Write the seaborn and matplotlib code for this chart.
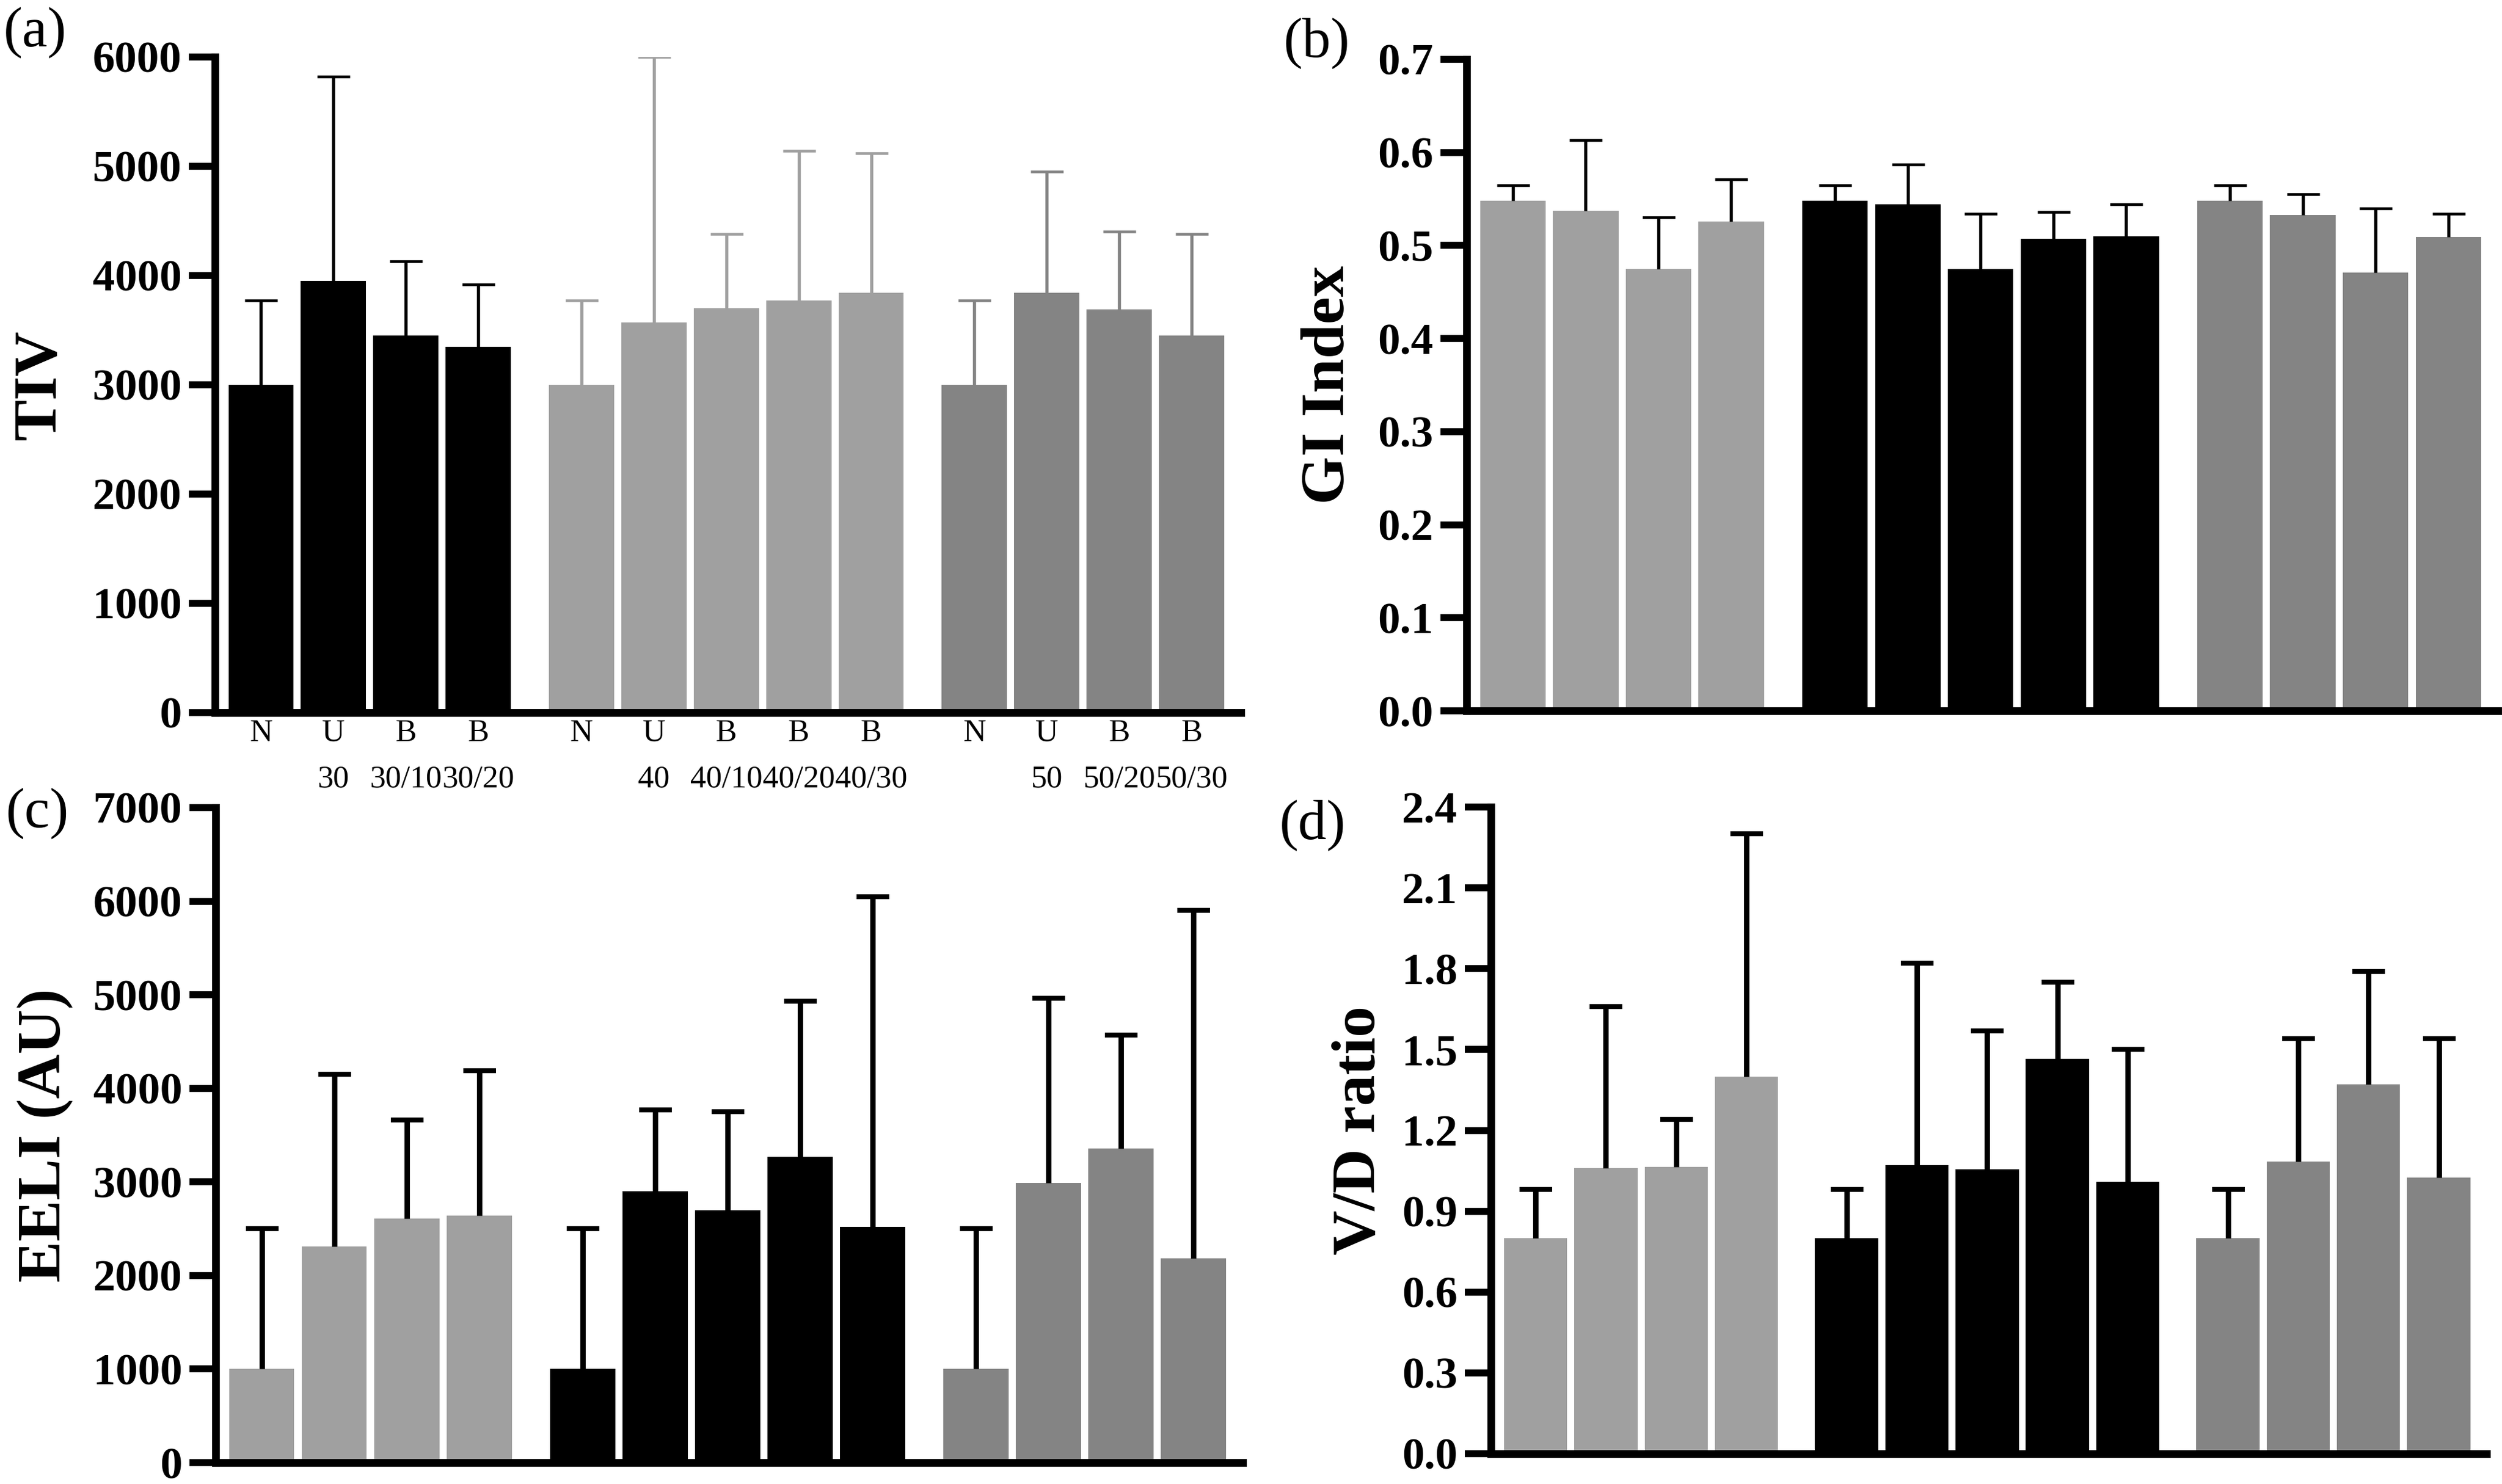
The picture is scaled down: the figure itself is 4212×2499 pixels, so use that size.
import numpy as np
import pandas as pd
import matplotlib
matplotlib.use("Agg")
import matplotlib.pyplot as plt
import seaborn as sns

# ---- data ----
group_sizes = [4, 5, 4]
group_ids = ["g1", "g2", "g3"]

tick_labels = ["N", "U\n30", "B\n30/10", "B\n30/20",
               "N", "U\n40", "B\n40/10", "B\n40/20", "B\n40/30",
               "N", "U\n50", "B\n50/20", "B\n50/30"]

tiv_mean = [3000, 3950, 3450, 3350, 3000, 3570, 3700, 3770, 3840, 3000, 3840, 3690, 3450]
tiv_upper = [3770, 5820, 4130, 3920, 3770, 6000, 4380, 5140, 5120, 3770, 4950, 4400, 4380]

gi_mean = [0.548, 0.537, 0.475, 0.526, 0.548, 0.544, 0.475, 0.507, 0.510, 0.548, 0.533, 0.471, 0.509]
gi_upper = [0.565, 0.613, 0.530, 0.571, 0.565, 0.587, 0.534, 0.536, 0.544, 0.565, 0.555, 0.540, 0.534]

eeli_mean = [1000, 2310, 2610, 2640, 1000, 2900, 2700, 3270, 2520, 1000, 2990, 3360, 2180]
eeli_upper = [2500, 4150, 3660, 4190, 2500, 3770, 3750, 4930, 6050, 2500, 4960, 4570, 5900]

vd_mean = [0.80, 1.06, 1.065, 1.40, 0.80, 1.07, 1.055, 1.465, 1.01, 0.80, 1.085, 1.37, 1.025]
vd_upper = [0.98, 1.66, 1.24, 2.30, 0.98, 1.82, 1.57, 1.75, 1.50, 0.98, 1.54, 1.79, 1.54]

tiv_ticks = [0, 1000, 2000, 3000, 4000, 5000, 6000]
gi_ticks = [0.0, 0.1, 0.2, 0.3, 0.4, 0.5, 0.6, 0.7]
eeli_ticks = [0, 1000, 2000, 3000, 4000, 5000, 6000, 7000]
vd_ticks = [0.0, 0.3, 0.6, 0.9, 1.2, 1.5, 1.8, 2.1, 2.4]

BLACK = "#000000"
LIGHT = "#a0a0a0"
DARK = "#848484"

# ---- style ----
sns.set_theme(style="ticks", rc={
    "axes.edgecolor": "black", "text.color": "black", "axes.labelcolor": "black",
    "xtick.color": "black", "ytick.color": "black",
})
plt.rcParams["font.family"] = ["Liberation Serif", "DejaVu Serif"]

# bar positions: consecutive bars 1 apart, extra space between groups
group_gap = 0.425
positions, groups = [], []
start = 0.0
for gid, n in zip(group_ids, group_sizes):
    positions += [start + i for i in range(n)]
    groups += [gid] * n
    start += n + group_gap

W, H = 4212, 2499
fig = plt.figure(figsize=(W / 300, H / 300), dpi=300)


def rect(x0, x1, ytop, ybot):
    return [x0 / W, 1 - ybot / H, (x1 - x0) / W, (ybot - ytop) / H]


def panel(ax, mean, upper, palette, err_colors, ticks, fmt, ylabel, label_x, elw, capt):
    df = pd.DataFrame({"pos": positions, "value": mean, "upper": upper, "group": groups})
    sns.barplot(data=df, x="pos", y="value", hue="group", palette=palette,
                native_scale=True, dodge=False, width=0.9, saturation=1,
                errorbar=None, legend=False, linewidth=0, ax=ax)
    # upper-only error bars (SD), drop the cap at the bar top
    for gid in group_ids:
        sub = df[df.group == gid]
        _, caps, _ = ax.errorbar(sub.pos, sub.value,
                                 yerr=[np.zeros(len(sub)), sub.upper - sub.value],
                                 fmt="none", ecolor=err_colors[gid], elinewidth=elw,
                                 capsize=6.6, capthick=capt, zorder=3)
        caps[0].set_visible(False)
    ax.set_xlim(-0.635, 13.53)
    ax.set_ylim(ticks[0], ticks[-1])
    ax.set_yticks(ticks, labels=[fmt(t) for t in ticks], fontsize=18, fontweight="bold")
    ax.tick_params(axis="y", length=10.5, width=2.8, pad=3, direction="out")
    ax.set_xlabel("")
    ax.set_ylabel(ylabel, fontsize=25, fontweight="bold")
    ax.yaxis.set_label_coords(label_x, 0.5)
    sns.despine(ax=ax)
    for s in ["left", "bottom"]:
        ax.spines[s].set_linewidth(3.1)
    ax.set_facecolor("white")


ax_a = fig.add_axes(rect(362, 2089, 96, 1200))
ax_b = fig.add_axes(rect(2469, 4205, 100, 1197))
ax_c = fig.add_axes(rect(363, 2092, 1360, 2463))
ax_d = fig.add_axes(rect(2510, 4186, 1359, 2448))

pal_a = {"g1": BLACK, "g2": LIGHT, "g3": DARK}
pal_rest = {"g1": LIGHT, "g2": BLACK, "g3": DARK}
black_err = {g: BLACK for g in group_ids}

panel(ax_a, tiv_mean, tiv_upper, pal_a, pal_a, tiv_ticks, lambda t: f"{t:d}",
      "TIV", -0.143, 1.3, 1.1)
panel(ax_b, gi_mean, gi_upper, pal_rest, black_err, gi_ticks, lambda t: f"{t:.1f}",
      "GI Index", -0.1066, 1.3, 1.1)
panel(ax_c, eeli_mean, eeli_upper, pal_rest, black_err, eeli_ticks, lambda t: f"{t:d}",
      "EELI (AU)", -0.139, 2.2, 2.0)
panel(ax_d, vd_mean, vd_upper, pal_rest, black_err, vd_ticks, lambda t: f"{t:.1f}",
      "V/D ratio", -0.104, 2.2, 2.0)

# x labels only on panel (a)
ax_a.set_xticks(positions, labels=tick_labels, fontsize=12.8, linespacing=1.8)
ax_a.tick_params(axis="x", length=0, pad=2.6)
for ax in [ax_b, ax_c, ax_d]:
    ax.set_xticks([])

# panel letters
fig.text(6 / W, 1 - 78 / H, "(a)", fontsize=23, va="baseline", ha="left")
fig.text(2161 / W, 1 - 96 / H, "(b)", fontsize=23, va="baseline", ha="left")
fig.text(10 / W, 1 - 1393 / H, "(c)", fontsize=23, va="baseline", ha="left")
fig.text(2154 / W, 1 - 1413 / H, "(d)", fontsize=23, va="baseline", ha="left")

fig.savefig("out.png", dpi=300, facecolor="white")
